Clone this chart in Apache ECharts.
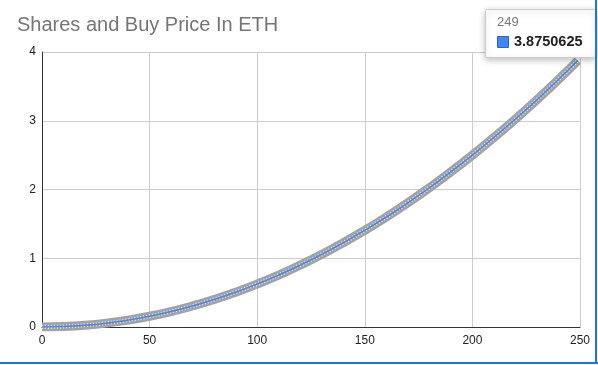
<!DOCTYPE html>
<html>
<head>
<meta charset="utf-8">
<script src="https://cdn.jsdelivr.net/npm/echarts@6/dist/echarts.min.js"></script>
<style>html,body{margin:0;padding:0;background:#fff}#c{width:598px;height:365px}</style>
</head>
<body>
<div id="c"></div>
<script>
var titleText = 'Shares and Buy Price In ETH';
var shares = [0, 10, 20, 30, 40, 50, 60, 70, 80, 90, 100, 110, 120, 130, 140, 150, 160, 170, 180, 190, 200, 210, 220, 230, 240, 249];
var buyPrice = [0, 0.00625, 0.025, 0.05625, 0.1, 0.15625, 0.225, 0.30625, 0.4, 0.50625, 0.625, 0.75625, 0.9, 1.05625, 1.225, 1.40625, 1.6, 1.80625, 2.025, 2.25625, 2.5, 2.75625, 3.025, 3.30625, 3.6, 3.8750625];
var xTicks = [0, 50, 100, 150, 200, 250];
var yTicks = [0, 1, 2, 3, 4];

var pts = shares.map(function (s, i) { return [s, buyPrice[i]]; });
var lastX = shares[shares.length - 1];
var lastY = buyPrice[buyPrice.length - 1];
var FONT = '"Liberation Sans", Arial, sans-serif';

var chart = echarts.init(document.getElementById('c'), null, {renderer: 'canvas'});
chart.setOption({
  animation: false,
  backgroundColor: '#fff',
  title: {
    text: titleText, left: 12, top: 10,
    textStyle: {fontFamily: FONT, fontSize: 20, fontWeight: 'normal', color: '#757575'}
  },
  grid: {left: 42, right: 18, top: 52, bottom: 38},
  xAxis: {
    type: 'value', min: xTicks[0], max: xTicks[xTicks.length - 1], interval: 50,
    axisLine: {show: true, lineStyle: {color: '#333', width: 1}},
    axisTick: {show: false},
    axisLabel: {color: '#222', fontFamily: FONT, fontSize: 12, margin: 8},
    splitLine: {show: true, lineStyle: {color: '#ccc'}}
  },
  yAxis: {
    type: 'value', min: yTicks[0], max: yTicks[yTicks.length - 1], interval: 1,
    axisLine: {show: true, onZero: false, lineStyle: {color: '#333', width: 1}},
    axisTick: {show: false},
    axisLabel: {color: '#222', fontFamily: FONT, fontSize: 12, margin: 6},
    splitLine: {show: true, lineStyle: {color: '#ccc'}}
  },
  series: [
    {type: 'line', data: pts, smooth: true, showSymbol: false, silent: true,
     lineStyle: {color: '#a2a2a2', width: 9}, z: 2},
    {type: 'line', data: pts, smooth: true, showSymbol: false, silent: true,
     lineStyle: {color: '#e8e8e8', width: 4, type: [1, 2]}, z: 3},
    {type: 'line', data: pts, smooth: true, showSymbol: false, silent: true,
     lineStyle: {color: '#4285f4', width: 1.5}, z: 4}
  ],
  graphic: [
    {type: 'rect', left: 485, top: 9, z: 100,
     shape: {width: 110, height: 48, r: 1},
     style: {fill: '#fff', stroke: '#ccc', lineWidth: 1,
             shadowBlur: 6, shadowColor: 'rgba(0,0,0,0.25)', shadowOffsetY: 2}},
    {type: 'text', left: 497, top: 16, z: 101,
     style: {text: String(lastX), fill: '#777', font: '13px ' + FONT}},
    {type: 'rect', left: 497, top: 36, z: 101,
     shape: {width: 11, height: 11},
     style: {fill: '#4285f4', stroke: '#2a62c8', lineWidth: 1}},
    {type: 'text', left: 514, top: 34, z: 101,
     style: {text: String(lastY), fill: '#222', font: 'bold 14.5px ' + FONT}},
    {type: 'rect', left: 0, top: 362, z: 110, shape: {width: 598, height: 2}, style: {fill: '#1a73e8'}},
    {type: 'rect', left: 595, top: 0, z: 110, shape: {width: 2, height: 364}, style: {fill: '#1a73e8'}}
  ]
});
</script>
</body>
</html>
